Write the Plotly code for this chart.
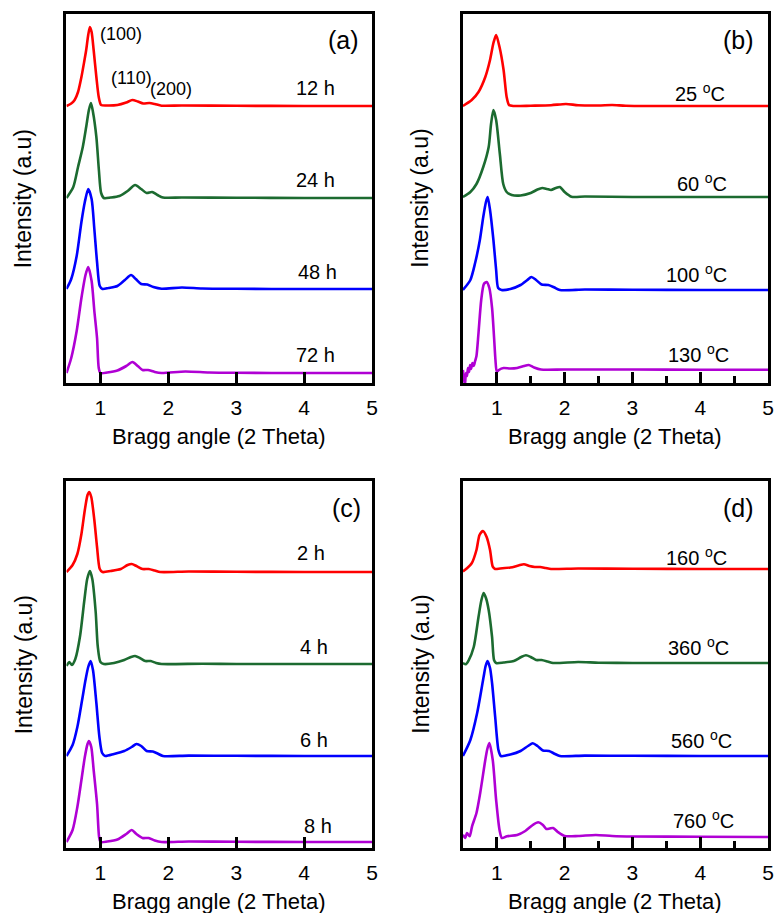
import plotly.graph_objects as go

# ---------------------------------------------------------------
# Small-angle XRD patterns, four panels, each with four stacked curves.
# Intensities are in arbitrary units; each curve is lifted by a stacking offset.
# ---------------------------------------------------------------

# Panel (a): synthesis time
a_12h_x = [0.50, 0.57, 0.62, 0.67, 0.72, 0.76, 0.79, 0.82, 0.845, 0.87, 0.90, 0.94, 0.975, 1.01, 1.10, 1.25, 1.38, 1.47, 1.55, 1.63, 1.72, 1.80, 1.90, 2.2, 3.0, 4.0, 5.0]
a_12h_i = [0, 2.5, 6, 14, 29, 44, 56, 71, 79, 74, 56, 29, 9, 1, 0.5, 1, 3.5, 6, 4.5, 2.5, 3, 2, 0.3, 0.5, 0.2, 0, 0]
a_24h_x = [0.50, 0.60, 0.67, 0.74, 0.79, 0.83, 0.86, 0.89, 0.94, 0.977, 1.01, 1.05, 1.15, 1.28, 1.40, 1.51, 1.60, 1.68, 1.76, 1.84, 1.92, 2.2, 3.0, 4.0, 5.0]
a_24h_i = [0, 11, 31, 51, 71, 88, 95, 86, 61, 28, 5, 0, 0.5, 2, 7, 13, 9, 5, 6, 3, 0.5, 0.5, 0.3, 0, 0]
a_48h_x = [0.50, 0.57, 0.65, 0.72, 0.77, 0.82, 0.87, 0.91, 0.95, 0.99, 1.03, 1.12, 1.25, 1.36, 1.45, 1.52, 1.60, 1.69, 1.78, 1.90, 2.2, 2.5, 3.0, 4.0, 5.0]
a_48h_i = [0, 10, 33, 67, 87, 100, 90, 60, 27, 3, 0, 1, 3, 9, 14, 10, 5, 4.5, 2, 0.3, 1.5, 0.5, 0.2, 0, 0]
a_72h_x = [0.50, 0.57, 0.65, 0.72, 0.78, 0.82, 0.87, 0.91, 0.95, 0.975, 1.0, 1.1, 1.25, 1.38, 1.47, 1.55, 1.62, 1.70, 1.80, 1.90, 2.25, 2.6, 3.0, 4.0, 5.0]
a_72h_i = [0, 15, 42, 75, 98, 106, 92, 62, 35, 5, 0, 0.5, 2.5, 7, 11, 7, 3, 3, 1, 0, 1.5, 0.5, 0.2, 0, 0]

# Panel (b): synthesis temperature
b_25c_x = [0.50, 0.63, 0.73, 0.83, 0.90, 0.95, 0.99, 1.04, 1.10, 1.145, 1.18, 1.25, 1.5, 1.8, 2.02, 2.2, 2.5, 2.7, 2.9, 3.5, 4.0, 5.0]
b_25c_i = [0, 6, 14, 29, 46, 63, 71, 59, 36, 9, 1, 0, 0.3, 0.8, 2, 0.8, 0.5, 1, 0.3, 0, 0, 0]
b_60c_x = [0.50, 0.61, 0.70, 0.80, 0.88, 0.915, 0.95, 0.99, 1.045, 1.095, 1.145, 1.22, 1.35, 1.50, 1.60, 1.67, 1.74, 1.80, 1.87, 1.93, 2.0, 2.1, 2.3, 3.0, 4.0, 5.0]
b_60c_i = [0, 5, 13, 30, 50, 73, 87, 77, 43, 13, 5, 2, 1.5, 4, 7.5, 9, 8, 7, 9, 10, 5, 0.3, 0.5, 0, 0, 0]
b_100c_x = [0.50, 0.61, 0.68, 0.75, 0.80, 0.84, 0.865, 0.90, 0.95, 0.99, 1.02, 1.07, 1.2, 1.35, 1.45, 1.51, 1.58, 1.66, 1.76, 1.85, 1.93, 2.3, 3.0, 4.0, 5.0]
b_100c_i = [0, 10, 27, 50, 73, 88, 93, 80, 50, 20, 2, 0, 1, 5, 10, 13, 10, 5.5, 5, 2.5, 0, 0.5, 0.2, 0, 0]
b_130c_x = [0.50, 0.515, 0.53, 0.545, 0.56, 0.575, 0.59, 0.605, 0.62, 0.64, 0.66, 0.68, 0.70, 0.73, 0.77, 0.81, 0.85, 0.89, 0.93, 0.96, 0.98, 1.00, 1.03, 1.1, 1.2, 1.3, 1.4, 1.47, 1.55, 1.65, 2.0, 3.0, 4.0, 5.0]
b_130c_i = [0, -8, -15, -3, -6, 2, -2, 5, 1, 7, 4, 9, 14, 37, 70, 86, 88, 82, 62, 32, 10, -2, 0, 2, 1.5, 2, 4, 5, 2.5, 0.5, 0.5, 0.5, 0.3, 0.3]

# Panel (c): ageing time
c_2h_x = [0.50, 0.59, 0.66, 0.72, 0.77, 0.81, 0.835, 0.865, 0.91, 0.95, 0.99, 1.03, 1.15, 1.30, 1.40, 1.46, 1.53, 1.62, 1.71, 1.80, 1.88, 2.3, 3.0, 4.0, 5.0]
c_2h_i = [0, 7, 18, 38, 62, 77, 80, 75, 52, 25, 3, 0, 1, 3, 7, 8, 6, 3, 3, 1.5, 0, 0.5, 0.2, 0, 0]
c_4h_x = [0.50, 0.54, 0.58, 0.63, 0.70, 0.76, 0.805, 0.845, 0.88, 0.93, 0.96, 1.0, 1.05, 1.2, 1.35, 1.45, 1.51, 1.58, 1.66, 1.74, 1.82, 1.90, 2.5, 3.0, 4.0, 5.0]
c_4h_i = [-2, 2, -1, 5, 28, 62, 85, 93, 85, 52, 18, 2, 0, 1, 4, 7, 8, 6, 3, 3, 1, 0, 0.3, 0, 0, 0]
c_6h_x = [0.50, 0.59, 0.66, 0.73, 0.78, 0.82, 0.855, 0.89, 0.94, 0.985, 1.025, 1.07, 1.2, 1.35, 1.46, 1.53, 1.60, 1.68, 1.77, 1.84, 1.92, 2.3, 3.0, 4.0, 5.0]
c_6h_i = [0, 11, 29, 56, 76, 89, 95, 86, 53, 19, 3, 0, 2, 5, 9, 12, 10, 5, 4.5, 2.5, 0, 0.4, 0.2, 0, 0]
c_8h_x = [0.50, 0.59, 0.66, 0.72, 0.77, 0.81, 0.83, 0.865, 0.90, 0.95, 0.98, 1.00, 1.1, 1.25, 1.38, 1.46, 1.53, 1.62, 1.71, 1.80, 1.90, 2.3, 3.0, 4.0, 5.0]
c_8h_i = [0, 12, 35, 62, 85, 98, 101, 95, 72, 38, 5, 0, 0.5, 2.5, 8, 12, 8, 4, 4, 1.5, 0, 0.5, 0.2, 0, 0]

# Panel (d): calcination temperature
d_160c_x = [0.50, 0.56, 0.63, 0.70, 0.745, 0.795, 0.85, 0.90, 0.94, 0.975, 1.05, 1.2, 1.32, 1.40, 1.48, 1.56, 1.64, 1.72, 1.80, 2.2, 3.0, 4.0, 5.0]
d_160c_i = [-2.5, 0.7, 5.7, 19, 34, 38, 32, 19, 2.3, 0, 0.5, 1.5, 3.5, 4.7, 3, 2, 2, 1, 0, 0.5, 0.2, 0, 0]
d_360c_x = [0.50, 0.54, 0.585, 0.66, 0.73, 0.77, 0.805, 0.84, 0.88, 0.93, 0.96, 0.99, 1.1, 1.25, 1.36, 1.43, 1.50, 1.58, 1.66, 1.75, 1.83, 2.2, 2.5, 3.0, 4.0, 5.0]
d_360c_i = [0, -1.3, 2.7, 16, 46, 62, 70, 65, 53, 26, 2.7, 0, 0.5, 2, 6, 7.7, 6, 3, 3, 1.5, 0, 1, 0.3, 0, 0, 0]
d_560c_x = [0.50, 0.61, 0.71, 0.805, 0.835, 0.863, 0.90, 0.93, 0.976, 1.024, 1.06, 1.2, 1.35, 1.46, 1.53, 1.60, 1.68, 1.77, 1.86, 1.93, 2.3, 3.0, 4.0, 5.0]
d_560c_i = [0, 16, 43, 79, 90, 95, 88, 73, 39, 6, 0, 1.5, 5, 10, 12.7, 10, 5.5, 5, 2, 0, 0.4, 0.2, 0, 0]
d_760c_x = [0.50, 0.535, 0.56, 0.60, 0.635, 0.70, 0.755, 0.83, 0.86, 0.89, 0.94, 0.99, 1.04, 1.075, 1.15, 1.3, 1.42, 1.53, 1.61, 1.68, 1.73, 1.78, 1.83, 1.90, 2.0, 2.2, 2.46, 2.7, 3.0, 4.0, 5.0]
d_760c_i = [2.3, -1, 4, 0.7, 10.7, 24, 44, 77, 88, 94, 77, 37, 7, -1, 0.7, 2, 6, 12, 14.7, 12, 8, 8.5, 9, 5, 1, 1, 2, 1, 0.5, 0.3, 0]

# Stacking offsets (a.u.) for the four curves of each panel, top to bottom
offsets_a = [277, 185, 94, 10]
offsets_b = [277, 186, 93, 13]
offsets_c = [276, 184, 92, 6]
offsets_d = [279, 185, 92, 11]

labels_a = ["12 h", "24 h", "48 h", "72 h"]
labels_b = ["25 <sup>o</sup>C", "60 <sup>o</sup>C", "100 <sup>o</sup>C", "130 <sup>o</sup>C"]
labels_c = ["2 h", "4 h", "6 h", "8 h"]
labels_d = ["160 <sup>o</sup>C", "360 <sup>o</sup>C", "560 <sup>o</sup>C", "760 <sup>o</sup>C"]

reflections = ["(100)", "(110)", "(200)"]
tick_values = [1, 2, 3, 4, 5]
tick_labels = ["1", "2", "3", "4", "5"]
minor_ticks = [1.5, 2.5, 3.5, 4.5]

# ---------------------------------------------------------------
colors = ["#FF0000", "#1C6B30", "#0000FF", "#B000D4"]
FONT = "Arial, Liberation Sans, sans-serif"
W, H = 779, 913

# Plot-area boxes in pixels: (left, right, top, bottom)
boxes = {
    "a": (67, 375, 14, 383),
    "b": (466.5, 774, 14, 383),
    "c": (67, 375, 481, 848),
    "d": (466.5, 774, 481, 848),
}

panels = [
    ("a", [(a_12h_x, a_12h_i), (a_24h_x, a_24h_i), (a_48h_x, a_48h_i), (a_72h_x, a_72h_i)], offsets_a, labels_a,
     [4.16, 4.16, 4.20, 4.16], [295, 203, 111, 28], (4.58, 343), False),
    ("b", [(b_25c_x, b_25c_i), (b_60c_x, b_60c_i), (b_100c_x, b_100c_i), (b_130c_x, b_130c_i)], offsets_b, labels_b,
     [4.00, 4.02, 3.95, 3.98], [291, 201, 110, 30], (4.57, 343), True),
    ("c", [(c_2h_x, c_2h_i), (c_4h_x, c_4h_i), (c_6h_x, c_6h_i), (c_8h_x, c_8h_i)], offsets_c, labels_c,
     [4.10, 4.15, 4.15, 4.20], [295, 201, 108, 22], (4.63, 340), False),
    ("d", [(d_160c_x, d_160c_i), (d_360c_x, d_360c_i), (d_560c_x, d_560c_i), (d_760c_x, d_760c_i)], offsets_d, labels_d,
     [3.95, 3.98, 4.02, 4.05], [292, 202, 109, 29], (4.57, 340), True),
]

fig = go.Figure()
annotations = []
layout_axes = {}

for k, (name, curves, offs, labs, lab_x, lab_y, tag_pos, with_minor) in enumerate(panels):
    n = k + 1
    xa = "x" if n == 1 else f"x{n}"
    ya = "y" if n == 1 else f"y{n}"
    left, right, top, bottom = boxes[name]
    span = bottom - top

    for (xs, ys), off, col in zip(curves, offs, colors):
        fig.add_trace(go.Scatter(
            x=xs, y=[v + off for v in ys], mode="lines", xaxis=xa, yaxis=ya,
            line=dict(color=col, width=2.6, shape="spline", smoothing=0.7),
            showlegend=False, hoverinfo="skip"))

    xaxis = dict(
        domain=[left / W, right / W], range=[0.5, 5], anchor=ya,
        showline=True, linecolor="black", linewidth=3, mirror=True,
        showgrid=False, zeroline=False,
        ticks="inside", ticklen=11, tickwidth=3, tickcolor="black",
        tickvals=tick_values, ticktext=tick_labels,
        tickfont=dict(family=FONT, size=21, color="black"),
        ticklabelstandoff=4,
    )
    if with_minor:
        xaxis["minor"] = dict(tickvals=minor_ticks, ticks="inside", ticklen=7,
                              tickwidth=3, tickcolor="black", showgrid=False)
    yaxis = dict(
        domain=[1 - bottom / H, 1 - top / H], range=[0, span], anchor=xa,
        showline=True, linecolor="black", linewidth=3, mirror=True,
        showgrid=False, zeroline=False, showticklabels=False, ticks="",
    )
    layout_axes["xaxis" if n == 1 else f"xaxis{n}"] = xaxis
    layout_axes["yaxis" if n == 1 else f"yaxis{n}"] = yaxis

    # curve labels
    for txt, lx, ly in zip(labs, lab_x, lab_y):
        annotations.append(dict(x=lx, y=ly, xref=xa, yref=ya, text=txt, showarrow=False,
                                xanchor="center", yanchor="middle",
                                font=dict(family=FONT, size=20, color="black")))
    # panel tag
    annotations.append(dict(x=tag_pos[0], y=tag_pos[1], xref=xa, yref=ya, text=f"({name})",
                            showarrow=False, xanchor="center", yanchor="middle",
                            font=dict(family=FONT, size=25, color="black")))
    # axis titles
    annotations.append(dict(x=(left + right) / 2 / W, y=1 - (bottom + 53) / H, xref="paper", yref="paper",
                            text="Bragg angle (2 Theta)", showarrow=False,
                            xanchor="center", yanchor="middle",
                            font=dict(family=FONT, size=22, color="black")))
    annotations.append(dict(x=(left - 43) / W, y=1 - (top + bottom) / 2 / H, xref="paper", yref="paper",
                            text="Intensity (a.u)", showarrow=False, textangle=-90,
                            xanchor="center", yanchor="middle",
                            font=dict(family=FONT, size=23, color="black")))

# reflection indices on the top curve of panel (a)
for txt, rx, ry in zip(reflections, [1.30, 1.46, 2.04], [349, 305, 294]):
    annotations.append(dict(x=rx, y=ry, xref="x", yref="y", text=txt, showarrow=False,
                            xanchor="center", yanchor="middle",
                            font=dict(family=FONT, size=18, color="black")))

fig.update_layout(
    width=W, height=H, margin=dict(l=0, r=0, t=0, b=0),
    paper_bgcolor="white", plot_bgcolor="white",
    annotations=annotations, showlegend=False, **layout_axes)

fig.write_html("out.html")
